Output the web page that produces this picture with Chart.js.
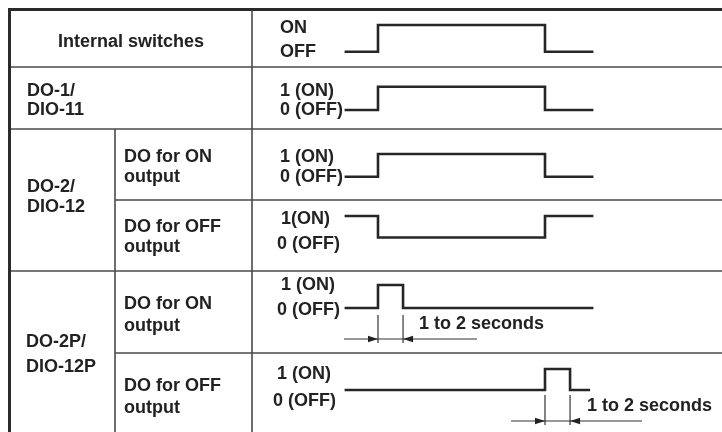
<!DOCTYPE html>
<html>
<head>
<meta charset="utf-8">
<script src="https://cdn.jsdelivr.net/npm/chart.js@4.4.0/dist/chart.umd.min.js"></script>
<style>
  html, body { margin: 0; padding: 0; background: #fff; }
  #wrap { width: 722px; height: 432px; }
</style>
</head>
<body>
<div id="wrap"><canvas id="timing-chart"></canvas></div>
<script>
// time axis: switch goes on at t=0, off at t=10
const switchTimes = [-2, 0, 10, 12.9];
const switchLevels = [0, 1, 0, 0];
const do1Levels = [0, 1, 0, 0];
const do2OnLevels = [0, 1, 0, 0];
const do2OffLevels = [1, 0, 1, 1];
const pulseOnTimes = [-2, 0, 1.5, 12.9];
const pulseOnLevels = [0, 1, 0, 0];
const pulseOffTimes = [-2, 10, 11.5, 12.7];
const pulseOffLevels = [0, 1, 0, 0];
const pulseNote = "1 to 2 seconds";

const headerLabel = "Internal switches";
const groupLabels = [["DO-1/", "DIO-11"], ["DO-2/", "DIO-12"], ["DO-2P/", "DIO-12P"]];
const outputLabels = [["DO for ON", "output"], ["DO for OFF", "output"], ["DO for ON", "output"], ["DO for OFF", "output"]];
const highLabels = ["ON", "1 (ON)", "1 (ON)", "1(ON)", "1 (ON)", "1 (ON)"];
const lowLabels = ["OFF", "0 (OFF)", "0 (OFF)", "0 (OFF)", "0 (OFF)", "0 (OFF)"];

// layout (pixels)
const W = 722, H = 432;
const pxPerUnit = 16.7, originPx = 378;
const waveRows = [
  { low: 51.7, high: 25 },
  { low: 110, high: 86.7 },
  { low: 176.7, high: 154 },
  { low: 237.5, high: 216 },
  { low: 308, high: 285 },
  { low: 390, high: 369 },
];
const levelText = [
  { hx: 280, hy: 33, lx: 280, ly: 57 },
  { hx: 280, hy: 96, lx: 280, ly: 115 },
  { hx: 280, hy: 162, lx: 280, ly: 182 },
  { hx: 281, hy: 224, lx: 277, ly: 249 },
  { hx: 281, hy: 290, lx: 277, ly: 315 },
  { hx: 277, hy: 379, lx: 273, ly: 406 },
];
const groupText = [{ x: 27, y: [96, 115] }, { x: 27, y: [192, 212] }, { x: 26, y: [347, 372] }];
const outputText = [{ x: 124, y: [162, 182] }, { x: 124, y: [232, 252] }, { x: 124, y: [309, 331] }, { x: 124, y: [391, 413] }];

function rowAxis(row) {
  const range = H / (row.low - row.high);
  const min = -(H - row.low) / (row.low - row.high);
  return { type: "linear", axis: "y", position: "left", display: false, min: min, max: min + range };
}

function points(times, levels) {
  return times.map((t, i) => ({ x: t, y: levels[i] }));
}

const signals = [
  points(switchTimes, switchLevels),
  points(switchTimes, do1Levels),
  points(switchTimes, do2OnLevels),
  points(switchTimes, do2OffLevels),
  points(pulseOnTimes, pulseOnLevels),
  points(pulseOffTimes, pulseOffLevels),
];

const scales = {
  x: { type: "linear", axis: "x", position: "bottom", display: false, min: -originPx / pxPerUnit, max: (W - originPx) / pxPerUnit },
};
waveRows.forEach((row, i) => { scales["y" + i] = rowAxis(row); });

const FONT = 'bold 18px "Liberation Sans", Arial, sans-serif';

function hLine(ctx, x1, x2, y) {
  ctx.beginPath(); ctx.moveTo(x1, y); ctx.lineTo(x2, y); ctx.stroke();
}
function vLine(ctx, x, y1, y2) {
  ctx.beginPath(); ctx.moveTo(x, y1); ctx.lineTo(x, y2); ctx.stroke();
}
function arrowHead(ctx, tipX, y, dir) {
  ctx.beginPath();
  ctx.moveTo(tipX, y);
  ctx.lineTo(tipX - dir * 10, y - 3.2);
  ctx.lineTo(tipX - dir * 10, y + 3.2);
  ctx.closePath();
  ctx.fill();
}
function dimension(ctx, xa, xb, y, top, bottom, leftLen, rightLen) {
  ctx.strokeStyle = "#333";
  ctx.fillStyle = "#222";
  ctx.lineWidth = 1.2;
  vLine(ctx, xa, top, bottom);
  vLine(ctx, xb, top, bottom);
  hLine(ctx, xa - leftLen, xb + rightLen, y);
  arrowHead(ctx, xa, y, 1);
  arrowHead(ctx, xb, y, -1);
}

const tablePlugin = {
  id: "timingTable",
  beforeDatasetsDraw(chart) {
    const ctx = chart.ctx;
    ctx.save();
    ctx.strokeStyle = "#4a4a4a";
    ctx.lineWidth = 1.6;
    hLine(ctx, 10, W, 67);
    hLine(ctx, 10, W, 129);
    hLine(ctx, 115, W, 200);
    hLine(ctx, 10, W, 271);
    hLine(ctx, 115, W, 353);
    vLine(ctx, 252, 9, H);
    vLine(ctx, 115, 129, H);
    ctx.strokeStyle = "#2a2a2a";
    ctx.lineWidth = 3;
    hLine(ctx, 8, W, 9.5);
    vLine(ctx, 9.5, 8, H);
    ctx.restore();
  },
  afterDatasetsDraw(chart) {
    const ctx = chart.ctx;
    const x = chart.scales.x;
    ctx.save();
    ctx.font = FONT;
    ctx.fillStyle = "#222";
    ctx.textBaseline = "alphabetic";
    ctx.textAlign = "center";
    ctx.fillText(headerLabel, 131, 47);
    ctx.textAlign = "left";
    groupLabels.forEach((lines, i) => {
      lines.forEach((s, j) => ctx.fillText(s, groupText[i].x, groupText[i].y[j]));
    });
    outputLabels.forEach((lines, i) => {
      lines.forEach((s, j) => ctx.fillText(s, outputText[i].x, outputText[i].y[j]));
    });
    levelText.forEach((p, i) => {
      ctx.fillText(highLabels[i], p.hx, p.hy);
      ctx.fillText(lowLabels[i], p.lx, p.ly);
    });

    // pulse width notes
    const a1 = x.getPixelForValue(pulseOnTimes[1]);
    const b1 = x.getPixelForValue(pulseOnTimes[2]);
    dimension(ctx, a1, b1, 339, 315, 343, 34, 74);
    const a2 = x.getPixelForValue(pulseOffTimes[1]);
    const b2 = x.getPixelForValue(pulseOffTimes[2]);
    dimension(ctx, a2, b2, 421, 395, 425, 34, 72);
    ctx.fillStyle = "#222";
    ctx.fillText(pulseNote, b1 + 16, 329);
    ctx.fillText(pulseNote, b2 + 17, 411);
    ctx.restore();
  },
};

new Chart(document.getElementById("timing-chart"), {
  type: "line",
  data: {
    datasets: signals.map((data, i) => ({
      data: data,
      xAxisID: "x",
      yAxisID: "y" + i,
      stepped: "before",
      borderColor: "#262626",
      borderWidth: 2.6,
      borderJoinStyle: "miter",
      pointRadius: 0,
      fill: false,
    })),
  },
  options: {
    responsive: true,
    maintainAspectRatio: false,
    animation: false,
    layout: { padding: 0 },
    plugins: { legend: { display: false }, tooltip: { enabled: false } },
    scales: scales,
  },
  plugins: [tablePlugin],
});
</script>
</body>
</html>
